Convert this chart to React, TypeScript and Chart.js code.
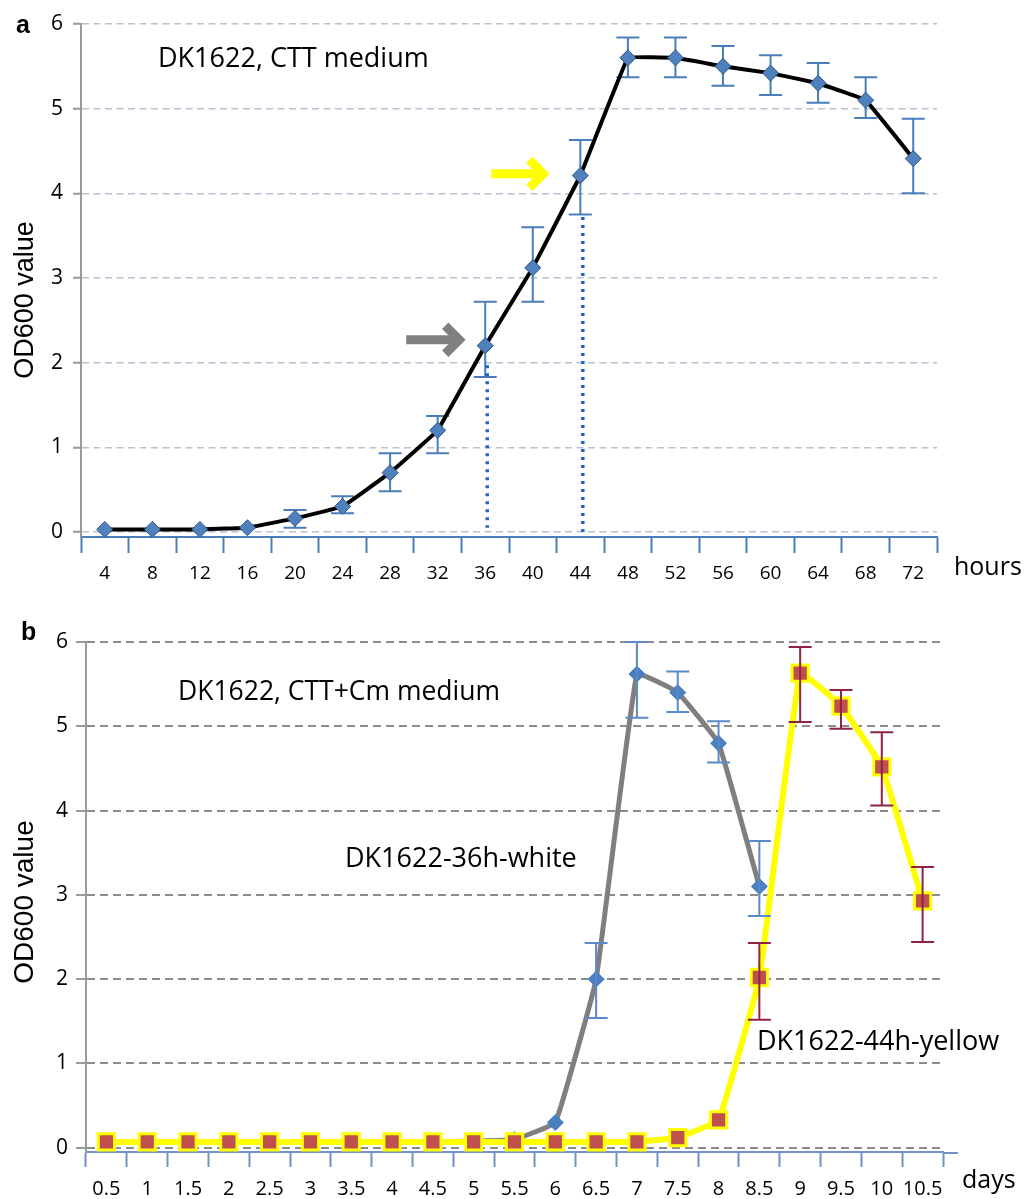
import React, { useEffect, useRef } from "react";
import { Chart, registerables } from "chart.js";

Chart.register(...registerables);

const FONT = "'Open Sans', 'DejaVu Sans', sans-serif";
const SANS = "'Liberation Sans', Arial, sans-serif";
const TEXT = "#000000";

// ---------- Panel a: DK1622, CTT medium (hours) ----------
const hourLabels = ["4", "8", "12", "16", "20", "24", "28", "32", "36", "40", "44", "48", "52", "56", "60", "64", "68", "72"];
const odHours = [0.03, 0.03, 0.03, 0.05, 0.16, 0.3, 0.7, 1.2, 2.2, 3.12, 4.21, 5.6, 5.6, 5.5, 5.42, 5.3, 5.1, 4.41];
const odHoursLow = [null, null, null, null, 0.05, 0.22, 0.48, 0.93, 1.83, 2.72, 3.75, 5.37, 5.37, 5.27, 5.16, 5.07, 4.89, 4.0];
const odHoursHigh = [null, null, null, null, 0.26, 0.42, 0.93, 1.37, 2.72, 3.6, 4.63, 5.84, 5.84, 5.74, 5.63, 5.54, 5.37, 4.88];
const yTickValues = [0, 1, 2, 3, 4, 5, 6];

// ---------- Panel b: DK1622, CTT+Cm medium (days) ----------
const dayLabels = ["0.5", "1", "1.5", "2", "2.5", "3", "3.5", "4", "4.5", "5", "5.5", "6", "6.5", "7", "7.5", "8", "8.5", "9", "9.5", "10", "10.5"];
const odWhite = [0.07, 0.07, 0.07, 0.07, 0.07, 0.07, 0.07, 0.07, 0.07, 0.08, 0.1, 0.3, 2.0, 5.62, 5.4, 4.8, 3.1, null, null, null, null];
const odWhiteLow = [null, null, null, null, null, null, null, null, null, null, null, null, 1.54, 5.1, 5.17, 4.57, 2.75, null, null, null, null];
const odWhiteHigh = [null, null, null, null, null, null, null, null, null, null, null, null, 2.43, 6.0, 5.65, 5.06, 3.64, null, null, null, null];
const odYellow = [0.07, 0.07, 0.07, 0.07, 0.07, 0.07, 0.07, 0.07, 0.07, 0.07, 0.07, 0.07, 0.07, 0.07, 0.12, 0.33, 2.02, 5.63, 5.24, 4.52, 2.93];
const odYellowLow = [null, null, null, null, null, null, null, null, null, null, null, null, null, null, null, null, 1.52, 5.05, 4.97, 4.06, 2.44];
const odYellowHigh = [null, null, null, null, null, null, null, null, null, null, null, null, null, null, null, null, 2.43, 5.94, 5.43, 4.93, 3.33];

type ErrSet = { ds: number; low: (number | null)[]; high: (number | null)[]; color: string; width: number; cap: number };

function errorBarPlugin(id: string, sets: ErrSet[], onTop: boolean) {
  const draw = (chart: any) => {
    const { ctx } = chart;
    const xs = chart.scales.x;
    const ys = chart.scales.y;
    sets.forEach((s) => {
      ctx.save();
      ctx.strokeStyle = s.color;
      ctx.lineWidth = s.width;
      ctx.lineCap = "butt";
      s.low.forEach((lo, i) => {
        const hi = s.high[i];
        if (lo == null || hi == null) return;
        const x = xs.getPixelForValue(i);
        const yl = ys.getPixelForValue(lo);
        const yh = ys.getPixelForValue(hi);
        ctx.beginPath();
        ctx.moveTo(x, yl);
        ctx.lineTo(x, yh);
        ctx.moveTo(x - s.cap / 2, yl);
        ctx.lineTo(x + s.cap / 2, yl);
        ctx.moveTo(x - s.cap / 2, yh);
        ctx.lineTo(x + s.cap / 2, yh);
        ctx.stroke();
      });
      ctx.restore();
    });
  };
  return onTop ? { id, afterDatasetsDraw: draw } : { id, beforeDatasetsDraw: draw };
}

function drawArrow(ctx: CanvasRenderingContext2D, tipX: number, y: number, len: number, color: string) {
  ctx.save();
  ctx.strokeStyle = color;
  ctx.lineWidth = 9;
  ctx.lineCap = "butt";
  ctx.lineJoin = "miter";
  const t = tipX - 6;
  ctx.beginPath();
  ctx.moveTo(tipX - len, y);
  ctx.lineTo(t - 3, y);
  ctx.stroke();
  ctx.beginPath();
  ctx.moveTo(t - 14, y - 14);
  ctx.lineTo(t, y);
  ctx.lineTo(t - 14, y + 14);
  ctx.stroke();
  ctx.restore();
}

function text(ctx: CanvasRenderingContext2D, s: string, x: number, y: number, font: string) {
  ctx.save();
  ctx.font = font;
  ctx.fillStyle = TEXT;
  ctx.textAlign = "left";
  ctx.textBaseline = "alphabetic";
  ctx.fillText(s, x, y);
  ctx.restore();
}

function yTitle(ctx: CanvasRenderingContext2D, s: string, x: number, y: number, font: string) {
  ctx.save();
  ctx.translate(x, y);
  ctx.rotate(-Math.PI / 2);
  ctx.font = font;
  ctx.fillStyle = TEXT;
  ctx.textAlign = "center";
  ctx.textBaseline = "alphabetic";
  ctx.fillText(s, 0, 0);
  ctx.restore();
}

const annotA = {
  id: "annotA",
  afterDraw(chart: any) {
    const ctx: CanvasRenderingContext2D = chart.ctx;
    const xs = chart.scales.x;
    const ys = chart.scales.y;
    // dotted guide lines at 36 h and 44 h
    ctx.save();
    ctx.strokeStyle = "#2264c4";
    ctx.lineWidth = 3.5;
    ctx.setLineDash([3, 5]);
    const x36 = xs.getPixelForValue(8) + 2;
    ctx.beginPath();
    ctx.moveTo(x36, ys.getPixelForValue(1.97));
    ctx.lineTo(x36, ys.getPixelForValue(0.05));
    ctx.stroke();
    const x44 = xs.getPixelForValue(10) + 2.5;
    ctx.beginPath();
    ctx.moveTo(x44, ys.getPixelForValue(3.72));
    ctx.lineTo(x44, ys.getPixelForValue(0));
    ctx.stroke();
    ctx.restore();
    // arrows
    drawArrow(ctx, xs.getPixelForValue(8) - 20, ys.getPixelForValue(2.27), 59, "#808080");
    drawArrow(ctx, xs.getPixelForValue(10) - 31, ys.getPixelForValue(4.23), 58, "#ffff00");
    // texts
    text(ctx, "a", 16, 33, `bold 25px ${SANS}`);
    text(ctx, "DK1622, CTT medium", 158, 67, `27px ${FONT}`);
    text(ctx, "hours", 954, 575, `25px ${FONT}`);
    yTitle(ctx, "OD600 value", 33, 300, `27px ${SANS}`);
  },
};

const annotB = {
  id: "annotB",
  afterDraw(chart: any) {
    const ctx: CanvasRenderingContext2D = chart.ctx;
    const area = chart.chartArea;
    // x-axis line extends a little past the last tick
    ctx.save();
    ctx.strokeStyle = "#7391c3";
    ctx.lineWidth = 2;
    ctx.beginPath();
    ctx.moveTo(area.right, area.bottom + 1);
    ctx.lineTo(area.right + 15, area.bottom + 1);
    ctx.stroke();
    ctx.restore();
    text(ctx, "b", 21, 50, `bold 25px ${SANS}`);
    text(ctx, "DK1622, CTT+Cm medium", 178, 110, `26.5px ${FONT}`);
    text(ctx, "DK1622-36h-white", 345, 277, `27px ${FONT}`);
    text(ctx, "DK1622-44h-yellow", 757, 460, `27px ${FONT}`);
    text(ctx, "days", 962, 598, `25px ${FONT}`);
    yTitle(ctx, "OD600 value", 33, 312, `28px ${SANS}`);
  },
};

function makeConfigA(): any {
  return {
    type: "line",
    data: {
      labels: hourLabels,
      datasets: [
        {
          data: odHours,
          borderColor: "#000000",
          borderWidth: 4,
          tension: 0.04,
          fill: false,
          pointStyle: "rectRot",
          pointRadius: 8,
          pointBackgroundColor: "#4f81bd",
          pointBorderColor: "#2f5587",
          pointBorderWidth: 1,
        },
      ],
    },
    options: {
      responsive: false,
      animation: false,
      devicePixelRatio: 1,
      layout: { padding: { top: 24, right: 93, left: 0, bottom: 0 } },
      plugins: { legend: { display: false }, tooltip: { enabled: false } },
      scales: {
        x: {
          type: "category",
          offset: true,
          grid: { display: true, drawOnChartArea: false, drawTicks: true, tickLength: 16, tickColor: "#4a7ebb", tickWidth: 2, offset: true },
          border: { display: true, color: "#4a7ebb", width: 2 },
          ticks: { autoSkip: false, maxRotation: 0, minRotation: 0, padding: 9, color: TEXT, font: { family: FONT, size: 19 } },
          afterFit: (s: any) => {
            s.height = 53;
          },
        },
        y: {
          min: -0.06,
          max: 6,
          bounds: "data",
          afterBuildTicks: (s: any) => {
            s.ticks = yTickValues.map((v) => ({ value: v }));
          },
          grid: { color: "#b7c2d2", lineWidth: 1.5, tickLength: 8, tickColor: "#9a9a9a", tickWidth: 2 },
          border: { display: true, color: "#9a9a9a", width: 2, dash: [7, 4.5] },
          ticks: { padding: 10, color: TEXT, font: { family: FONT, size: 21 } },
          afterFit: (s: any) => {
            s.width = 81;
          },
        },
      },
    },
    plugins: [
      errorBarPlugin("errA", [{ ds: 0, low: odHoursLow, high: odHoursHigh, color: "#4a7ebb", width: 2, cap: 23 }], false),
      annotA,
    ],
  };
}

function makeConfigB(): any {
  return {
    type: "line",
    data: {
      labels: dayLabels,
      datasets: [
        {
          label: "DK1622-44h-yellow",
          data: odYellow,
          borderColor: "#ffff00",
          borderWidth: 6,
          tension: 0.08,
          fill: false,
          pointStyle: "rect",
          pointRadius: 11.5,
          pointBackgroundColor: "#c0504d",
          pointBorderColor: "#ffff00",
          pointBorderWidth: 3,
        },
        {
          label: "DK1622-36h-white",
          data: odWhite,
          borderColor: "#7f7f7f",
          borderWidth: 5,
          tension: 0.08,
          fill: false,
          pointStyle: "rectRot",
          pointRadius: 8,
          pointBackgroundColor: "#4a7fc0",
          pointBorderColor: "#4a7fc0",
          pointBorderWidth: 1,
        },
      ],
    },
    options: {
      responsive: false,
      animation: false,
      devicePixelRatio: 1,
      layout: { padding: { top: 52, right: 87, left: 0, bottom: 0 } },
      plugins: { legend: { display: false }, tooltip: { enabled: false } },
      scales: {
        x: {
          type: "category",
          offset: true,
          grid: { display: true, drawOnChartArea: false, drawTicks: true, tickLength: 15, tickColor: "#7391c3", tickWidth: 2, offset: true },
          border: { display: true, color: "#7391c3", width: 2 },
          ticks: { autoSkip: false, maxRotation: 0, minRotation: 0, padding: 10, color: TEXT, font: { family: FONT, size: 20 } },
          afterFit: (s: any) => {
            s.height = 47;
          },
        },
        y: {
          min: -0.05,
          max: 6,
          bounds: "data",
          afterBuildTicks: (s: any) => {
            s.ticks = yTickValues.map((v) => ({ value: v }));
          },
          grid: { color: "#8c8c8c", lineWidth: 2, tickLength: 10, tickColor: "#9a9a9a", tickWidth: 2 },
          border: { display: true, color: "#9a9a9a", width: 2, dash: [8, 5] },
          ticks: { padding: 8, color: TEXT, font: { family: FONT, size: 21 } },
          afterFit: (s: any) => {
            s.width = 86;
          },
        },
      },
    },
    plugins: [
      errorBarPlugin(
        "errB",
        [
          { ds: 1, low: odWhiteLow, high: odWhiteHigh, color: "#5b8ac6", width: 2, cap: 23 },
          { ds: 0, low: odYellowLow, high: odYellowHigh, color: "#8e2344", width: 2, cap: 23 },
        ],
        true
      ),
      annotB,
    ],
  };
}

export default function App() {
  const refA = useRef<HTMLCanvasElement | null>(null);
  const refB = useRef<HTMLCanvasElement | null>(null);

  useEffect(() => {
    const a = new Chart(refA.current as HTMLCanvasElement, makeConfigA());
    const b = new Chart(refB.current as HTMLCanvasElement, makeConfigB());
    return () => {
      a.destroy();
      b.destroy();
    };
  }, []);

  return (
    <div style={{ position: "absolute", left: 0, top: 0, width: 1030, height: 1199, background: "#ffffff" }}>
      <canvas ref={refA} width={1030} height={590} style={{ position: "absolute", left: 0, top: 0, width: 1030, height: 590 }} />
      <canvas ref={refB} width={1030} height={609} style={{ position: "absolute", left: 0, top: 590, width: 1030, height: 609 }} />
    </div>
  );
}
